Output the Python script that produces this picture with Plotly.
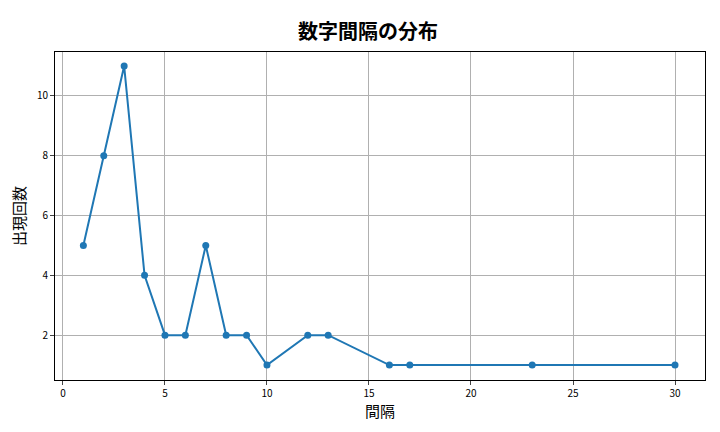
import plotly.graph_objects as go

gaps = [1, 2, 3, 4, 5, 6, 7, 8, 9, 10, 12, 13, 16, 17, 23, 30]
counts = [5, 8, 11, 4, 2, 2, 5, 2, 2, 1, 2, 2, 1, 1, 1, 1]
x_ticks = [0, 5, 10, 15, 20, 25, 30]
y_ticks = [2, 4, 6, 8, 10]

font = "Noto Sans CJK JP"
fig = go.Figure(go.Scatter(x=gaps, y=counts, mode="lines+markers",
                           line=dict(color="#1f77b4", width=2),
                           marker=dict(color="#1f77b4", size=7)))
ax = dict(showgrid=True, gridcolor="#b0b0b0", gridwidth=1, showline=True, linecolor="black",
          mirror=True, ticks="outside", ticklen=4, zeroline=False, automargin=False,
          tickfont=dict(size=10, family=font, color="black"))
fig.update_layout(
    width=720, height=432, plot_bgcolor="white", paper_bgcolor="white",
    margin=dict(l=47, r=23, t=44, b=60),
    title=dict(text="<b>数字間隔の分布</b>", x=0.5, xanchor="center", y=0.96, font=dict(size=20, family=font, color="black")),
    xaxis=dict(ax, range=[-0.39, 31.47], tickvals=x_ticks,
               title=dict(text="間隔", font=dict(size=15, family=font, color="black"), standoff=4)),
    yaxis=dict(ax, range=[0.5, 11.47], tickvals=y_ticks,
               title=dict(text="出現回数", font=dict(size=15, family=font, color="black"), standoff=8)),
    showlegend=False,
)
fig.write_html("out.html")
